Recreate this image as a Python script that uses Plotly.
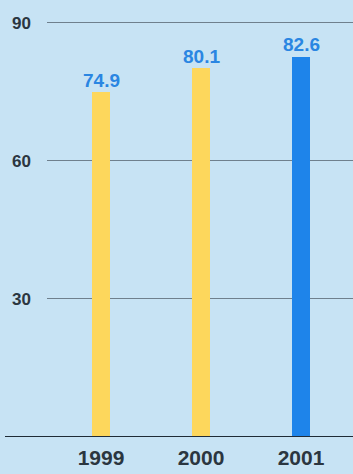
import plotly.graph_objects as go

years = ["1999", "2000", "2001"]
values = [74.9, 80.1, 82.6]
labels = ["74.9", "80.1", "82.6"]
bar_colors = ["#fdd75c", "#fdd75c", "#1e84ea"]
y_ticks = [30, 60, 90]

BG = "#c7e3f4"
FONT = "Liberation Sans, Arial, sans-serif"

fig = go.Figure()
fig.add_trace(go.Bar(
    x=years, y=values, width=0.18,
    marker=dict(color=bar_colors, line=dict(width=0)),
    hoverinfo="skip",
))

for i, (v, t) in enumerate(zip(values, labels)):
    fig.add_annotation(
        x=i, y=v, xref="x", yref="y", text=t, showarrow=False,
        yanchor="middle", yshift=12,
        font=dict(family=FONT, size=19, color="#2a86e2", weight="bold"),
    )

# baseline extending to the left edge
fig.add_shape(type="line", xref="paper", yref="y", x0=-42/306, x1=1, y0=0, y1=0,
              line=dict(color="#1f2b36", width=2), layer="above")

fig.update_layout(
    width=353, height=474,
    margin=dict(l=47, r=0, t=18, b=37),
    paper_bgcolor=BG, plot_bgcolor=BG,
    showlegend=False,
    bargap=0,
    xaxis=dict(
        type="category", range=[-0.54, 2.52],
        showgrid=False, zeroline=False, showline=False, ticks="",
        tickfont=dict(family=FONT, size=21, color="#2b3640", weight="bold"),
        ticklabelstandoff=6,
    ),
    yaxis=dict(
        range=[0, 91], tickvals=y_ticks, ticktext=[str(v) for v in y_ticks],
        showgrid=True, gridcolor="#6f808d", gridwidth=1,
        zeroline=False, showline=False, ticks="",
        tickfont=dict(family=FONT, size=17, color="#2b3640", weight="bold"),
        ticklabelstandoff=15,
    ),
    font=dict(family=FONT),
)

fig.write_html("out.html")
